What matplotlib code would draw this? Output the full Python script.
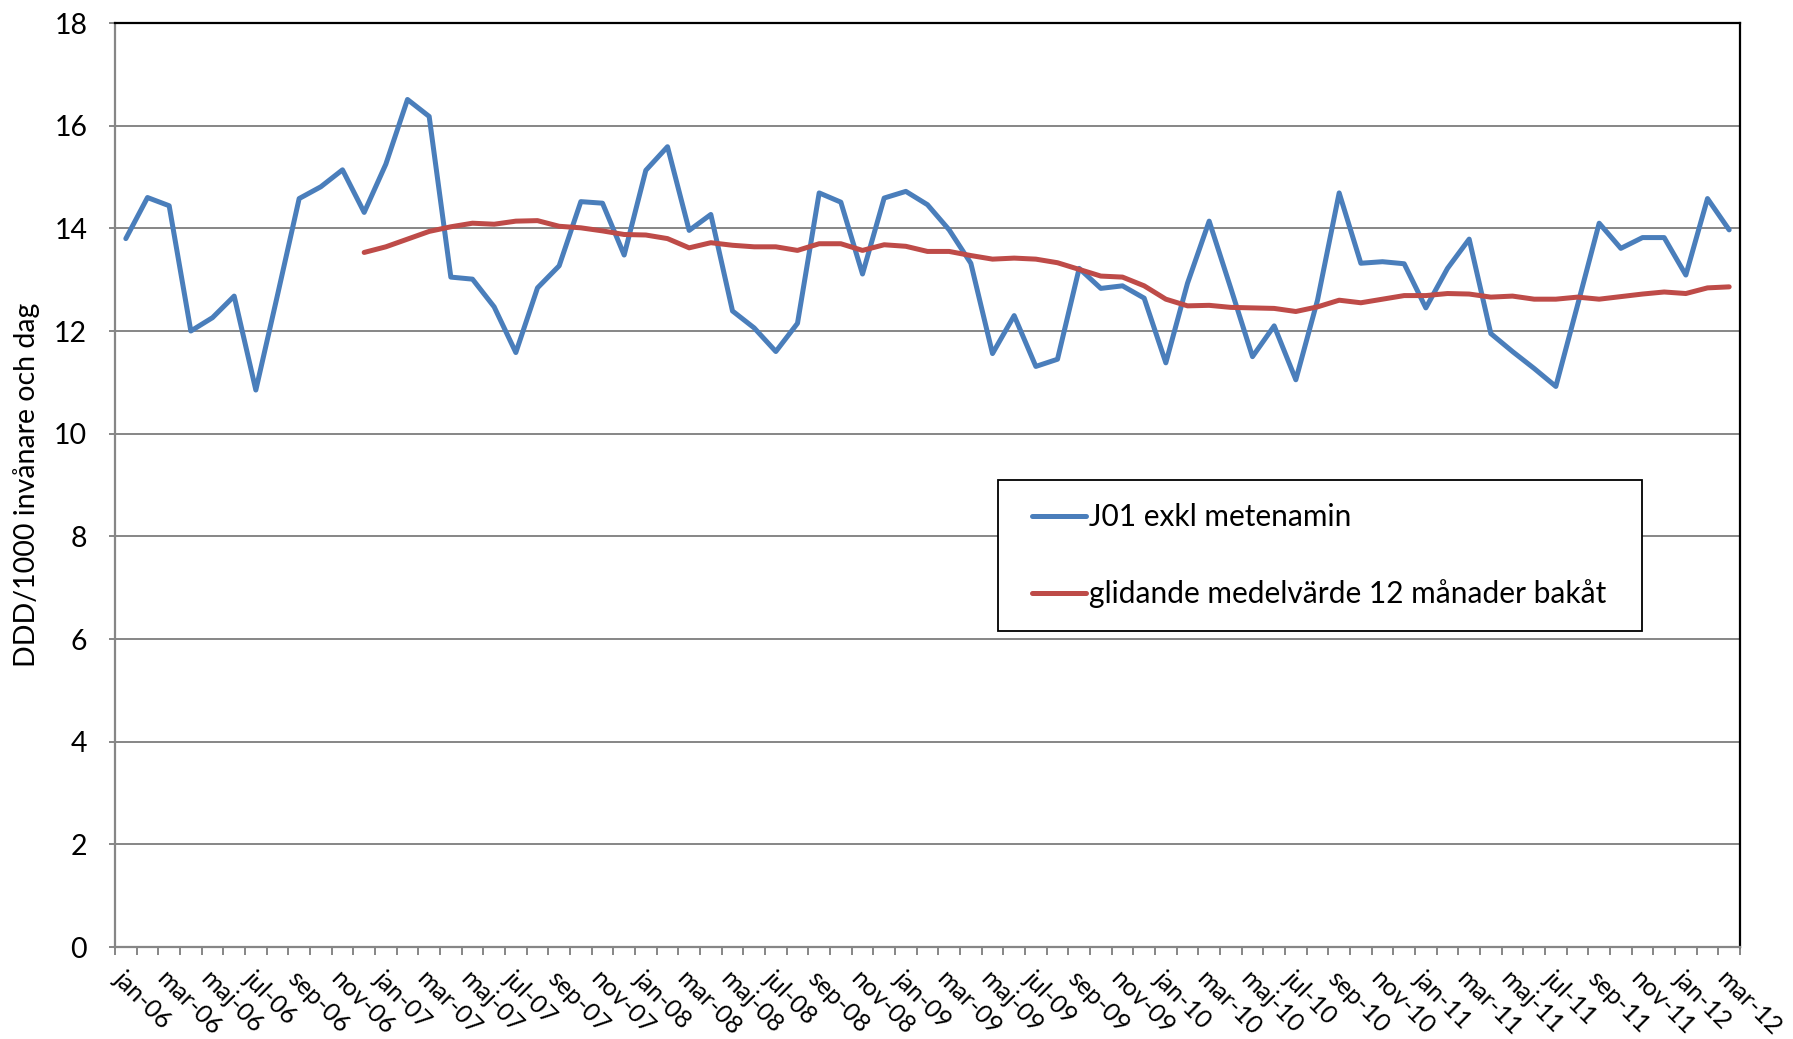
import numpy as np
import matplotlib
matplotlib.use('Agg')
import matplotlib.pyplot as plt
from matplotlib.patches import Rectangle
from matplotlib.ticker import FixedLocator

plt.rcParams['font.family'] = ['Lato', 'DejaVu Sans']

# Swedish month abbreviations, jan-06 .. mar-12
month_names = ['jan', 'feb', 'mar', 'apr', 'maj', 'jun',
               'jul', 'aug', 'sep', 'okt', 'nov', 'dec']
years = ['06', '07', '08', '09', '10', '11', '12']
months = [f'{m}-{y}' for y in years for m in month_names][:75]

# J01 exkl metenamin, DDD/1000 inv och dag per månad
j01 = [13.80, 14.60, 14.44, 12.00, 12.26, 12.68, 10.85, 12.70, 14.58, 14.81,
       15.14, 14.31, 15.25, 16.51, 16.18, 13.05, 13.01, 12.47, 11.58, 12.84,
       13.27, 14.52, 14.49, 13.48, 15.13, 15.59, 13.96, 14.27, 12.39, 12.06,
       11.60, 12.15, 14.69, 14.51, 13.11, 14.59, 14.72, 14.46, 13.97, 13.32,
       11.56, 12.30, 11.31, 11.45, 13.22, 12.83, 12.88, 12.64, 11.38, 12.93,
       14.14, 12.83, 11.50, 12.10, 11.05, 12.60, 14.69, 13.32, 13.35, 13.31,
       12.45, 13.22, 13.79, 11.95, 11.60, 11.27, 10.92, 12.50, 14.10, 13.61,
       13.82, 13.82, 13.09, 14.58, 13.97]

# glidande medelvärde 12 månader bakåt (startar dec-06)
rolling = [None] * 11 + [
    13.53, 13.64, 13.79, 13.94, 14.03, 14.10, 14.08, 14.14, 14.15, 14.04,
    14.01, 13.95, 13.88, 13.87, 13.80, 13.62, 13.72, 13.67, 13.64, 13.64,
    13.57, 13.70, 13.70, 13.57, 13.68, 13.65, 13.55, 13.55, 13.47, 13.40,
    13.42, 13.40, 13.33, 13.20, 13.07, 13.05, 12.88, 12.62, 12.49, 12.50,
    12.46, 12.45, 12.44, 12.38, 12.47, 12.60, 12.55, 12.62, 12.69, 12.69,
    12.73, 12.72, 12.66, 12.68, 12.62, 12.62, 12.66, 12.62, 12.67, 12.72,
    12.76, 12.73, 12.84, 12.86]

y_ticks = [0, 2, 4, 6, 8, 10, 12, 14, 16, 18]

x = np.arange(len(months))
rolling_arr = np.array([np.nan if v is None else v for v in rolling])

fig = plt.figure(figsize=(17.93, 10.39), dpi=100)
ax = fig.add_axes([115 / 1793, 92 / 1039, 1625 / 1793, 924 / 1039])

grid_col = '#868686'
ax.yaxis.grid(True, color=grid_col, linewidth=1.4)
ax.set_axisbelow(True)

ax.plot(x, j01, color='#4A7EBB', linewidth=3.6, label='J01 exkl metenamin',
        solid_joinstyle='round', solid_capstyle='round')
ax.plot(x, rolling_arr, color='#BE4B48', linewidth=3.6,
        label='glidande medelvärde 12 månader bakåt',
        solid_joinstyle='round', solid_capstyle='round')

ax.set_xlim(-0.5, len(months) - 0.5)
ax.set_ylim(0, 18)
ax.set_yticks(y_ticks)
ax.tick_params(axis='y', length=4, width=1.4, color=grid_col, pad=16,
               labelsize=20.5)

# ticks between categories, labels every second month
ax.xaxis.set_major_locator(FixedLocator(np.arange(-0.5, len(months), 1.0)))
ax.xaxis.set_major_formatter(plt.NullFormatter())
ax.xaxis.set_minor_locator(FixedLocator(x[::2]))
ax.set_xticklabels(months[::2], minor=True)
ax.tick_params(axis='x', which='major', length=6, width=1.4, color=grid_col)
ax.tick_params(axis='x', which='minor', length=0, pad=14, labelsize=18)
for lab in ax.get_xticklabels(minor=True):
    lab.set_rotation(-45)
    lab.set_rotation_mode('anchor')
    lab.set_ha('left')
    lab.set_va('top')

for side in ['left', 'bottom']:
    ax.spines[side].set_color(grid_col)
    ax.spines[side].set_linewidth(1.6)
for side in ['top', 'right']:
    ax.spines[side].set_color('black')
    ax.spines[side].set_linewidth(1.6)

ax.set_ylabel('DDD/1000 invånare och dag', fontsize=20.5, labelpad=10)

# legend box drawn as a white rectangle, entries placed inside it
box = Rectangle((0.5436, 0.3418), 0.3961, 0.1633, transform=ax.transAxes,
                facecolor='white', edgecolor='black', linewidth=1.3, zorder=4)
ax.add_patch(box)
leg = ax.legend(loc='center left', bbox_to_anchor=(0.5643, 0.4234),
                frameon=False, borderpad=0, borderaxespad=0, fontsize=21.5,
                handlelength=1.8, handletextpad=0.1, labelspacing=1.6)
leg.set_zorder(5)

fig.savefig('out.png', dpi=100)
